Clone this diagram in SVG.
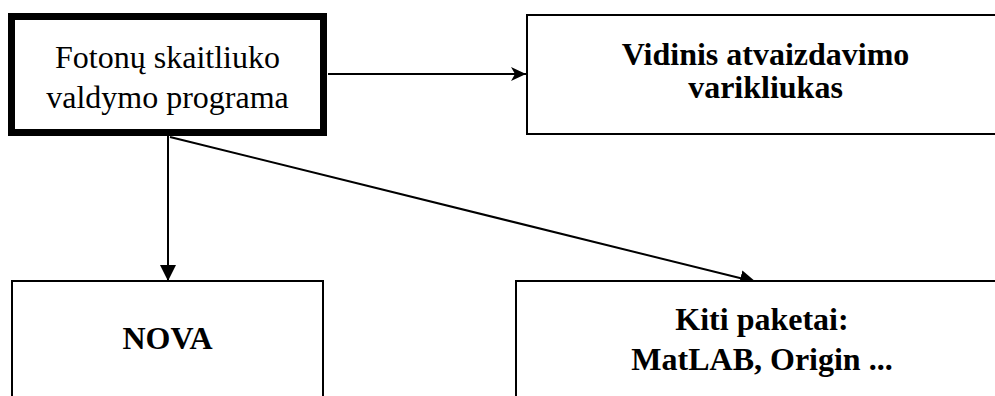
<svg xmlns="http://www.w3.org/2000/svg" width="995" height="396" viewBox="0 0 995 396">
<style>
.box{fill:#fff;stroke:#000;stroke-width:2}
.t{font-family:"Liberation Serif","Times New Roman",serif;font-size:32px;fill:#000;text-anchor:middle}
.b{font-weight:bold}
.c{stroke:#000;stroke-width:2;fill:none}
</style>
<defs>
<marker id="stealth" markerUnits="userSpaceOnUse" markerWidth="16" markerHeight="16" refX="15" refY="7" orient="auto" viewBox="0 0 16 14">
<path d="M0,0 L15,7 L0,14 L4,7 Z" fill="#000"/>
</marker>
<marker id="tri" markerUnits="userSpaceOnUse" markerWidth="17" markerHeight="17" refX="16" refY="8" orient="auto" viewBox="0 0 17 16">
<path d="M0,0 L16,8 L0,16 Z" fill="#000"/>
</marker>
</defs>
<rect width="995" height="396" fill="#fff"/>
<g id="connectors">
<line class="c" x1="328" y1="74" x2="526" y2="74" marker-end="url(#stealth)"/>
<line class="c" x1="168" y1="136" x2="168" y2="281" marker-end="url(#tri)"/>
<line class="c" x1="170" y1="137" x2="756" y2="282" marker-end="url(#tri)"/>
</g>
<g id="fotonu">
<rect x="11.5" y="16.5" width="312" height="116" fill="#fff" stroke="#000" stroke-width="7"/>
<text class="t" x="167.5" y="68">Fotonų skaitliuko</text>
<text class="t" x="167.5" y="108">valdymo programa</text>
</g>
<g id="vidinis">
<rect class="box" x="527" y="15" width="480" height="119"/>
<text class="t b" x="765.5" y="65">Vidinis atvaizdavimo</text>
<text class="t b" x="765.5" y="98">varikliukas</text>
</g>
<g id="nova">
<rect class="box" x="12" y="281" width="311" height="130"/>
<text class="t b" x="167.5" y="349">NOVA</text>
</g>
<g id="kiti">
<rect class="box" x="516" y="281" width="490" height="130"/>
<text class="t b" x="762" y="330">Kiti paketai:</text>
<text class="t b" x="762" y="370">MatLAB, Origin ...</text>
</g>
</svg>
